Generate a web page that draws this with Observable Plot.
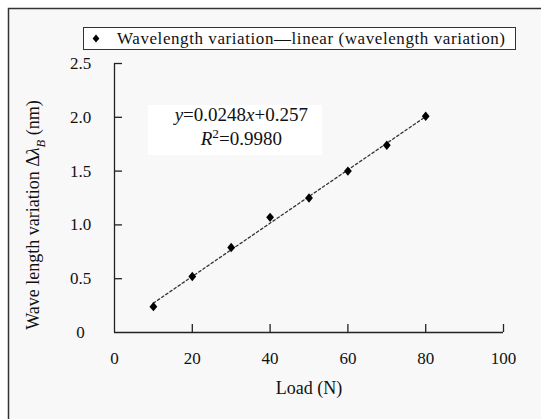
<!DOCTYPE html>
<html><head><meta charset="utf-8">
<script src="https://cdn.jsdelivr.net/npm/d3@7"></script>
<script src="https://cdn.jsdelivr.net/npm/@observablehq/plot@0.6"></script>
<style>body{margin:0;background:#fff;} #chart{width:541px;height:419px;overflow:hidden;}</style>
</head><body><div id="chart"></div>
<script>
const load = [10, 20, 30, 40, 50, 60, 70, 80];
const wavelengthVariation = [0.24, 0.52, 0.79, 1.07, 1.25, 1.50, 1.74, 2.01];
const xTicks = [0, 20, 40, 60, 80, 100];
const yTicks = [0, 0.5, 1.0, 1.5, 2.0, 2.5];
const yTickLabels = ["0", "0.5", "1.0", "1.5", "2.0", "2.5"];
const legendLabel = "Wavelength variation\u2014linear (wavelength variation)";
const xLabel = "Load (N)";
const yLabelParts = [{t: "Wave length variation \u0394"}, {t: "\u03bb", i: true}, {t: "B", i: true, sub: true}, {t: " (nm)"}];
const eqLine1 = [{t: "y", i: true}, {t: "=0.0248"}, {t: "x", i: true}, {t: "+0.257"}];
const eqLine2 = [{t: "R", i: true}, {t: "2", sup: true}, {t: "=0.9980"}];
const eqPos = {x: 32.6, y1: 2.02, y2: 1.80};

const data = load.map((x, i) => ({x, y: wavelengthVariation[i]}));
const serif = "'Liberation Serif', 'Times New Roman', serif";
const diamond = {draw(ctx, size) {
  const w = Math.sqrt(size) * 0.55, h = w * 1.2;
  ctx.moveTo(0, -h); ctx.lineTo(w, 0); ctx.lineTo(0, h); ctx.lineTo(-w, 0); ctx.closePath();
}};
const plain = parts => parts.map(p => p.t).join("");

const plot = Plot.plot({
  width: 541, height: 419,
  marginLeft: 114, marginRight: 38, marginTop: 63, marginBottom: 87,
  style: {fontFamily: serif, fontSize: "17px", background: "white", color: "#111"},
  x: {domain: [0, 100]},
  y: {domain: [0, 2.5]},
  marks: [
    Plot.axisX(xTicks, {tickSize: 0, tickPadding: 19, fontSize: 17, label: null}),
    Plot.axisY(yTicks, {tickSize: 0, tickPadding: 34, textAnchor: "middle", fontSize: 17, label: null,
      tickFormat: d => yTickLabels[yTicks.indexOf(d)]}),
    Plot.ruleY([0], {x1: xTicks[0], x2: xTicks[xTicks.length - 1], stroke: "#222", strokeWidth: 1.3}),
    Plot.ruleX([0], {y1: yTicks[0], y2: yTicks[yTicks.length - 1], stroke: "#222", strokeWidth: 1.3}),
    Plot.ruleX(xTicks.slice(1), {x: d => d, y1: 0, y2: 0, insetTop: -8, stroke: "#222", strokeWidth: 1.3}),
    Plot.ruleY(yTicks.slice(1), {y: d => d, x1: 0, x2: 0, insetRight: -8, stroke: "#222", strokeWidth: 1.3}),
    Plot.linearRegressionY(data, {x: "x", y: "y", ci: 0, stroke: "#333", strokeWidth: 1.3, strokeDasharray: "2.5,2.5"}),
    Plot.dot(data, {x: "x", y: "y", symbol: diamond, r: 4, fill: "#000", stroke: "none"}),
    Plot.text([plain(eqLine1)], {x: eqPos.x, y: eqPos.y1, text: d => d, fontSize: 19, className: "eq1"}),
    Plot.text([plain(eqLine2)], {x: eqPos.x, y: eqPos.y2, text: d => d, fontSize: 19, className: "eq2"}),
    Plot.text([xLabel], {frameAnchor: "bottom", textAnchor: "middle", dy: 61, text: d => d, fontSize: 18}),
    Plot.text([plain(yLabelParts)], {frameAnchor: "left", textAnchor: "middle", dx: -81, dy: 17, rotate: -90, text: d => d, fontSize: 18, className: "ylab"})
  ]
});

const svg = d3.select(plot);
function rich(sel, parts, fs) {
  const t = svg.select(sel + " text");
  t.text(null);
  let shift = 0;
  parts.forEach(p => {
    const s = t.append("tspan").text(p.t);
    if (p.i) s.attr("font-style", "italic");
    let target = 0;
    if (p.sub) { s.attr("font-size", "0.7em"); target = 0.3 * fs; }
    if (p.sup) { s.attr("font-size", "0.7em"); target = -0.36 * fs; }
    const d = target - shift;
    if (d !== 0) s.attr("dy", d + "px");
    shift = target;
  });
}
rich(".eq1", eqLine1, 19);
rich(".eq2", eqLine2, 19);
rich(".ylab", yLabelParts, 18);

// outer frame (behind everything)
svg.insert("rect", ":first-child")
  .attr("x", 8.5).attr("y", 8.5).attr("width", 560).attr("height", 440)
  .attr("fill", "#f8f8f8").attr("stroke", "#333").attr("stroke-width", 1.5);
// white backing behind the equation
svg.insert("rect", ":nth-child(2)")
  .attr("x", 148).attr("y", 105).attr("width", 174).attr("height", 50).attr("fill", "#fff");

// legend box
const lg = svg.append("g");
lg.append("rect").attr("x", 83.5).attr("y", 27.5).attr("width", 432).attr("height", 22)
  .attr("fill", "#fff").attr("stroke", "#333").attr("stroke-width", 1);
lg.append("path").attr("d", d3.symbol(diamond, Math.PI * 12)()).attr("transform", "translate(96,38.5)").attr("fill", "#000");
lg.append("text").attr("x", 117).attr("y", 38.5).attr("dy", "0.35em").attr("text-anchor", "start")
  .attr("font-family", serif).attr("font-size", 17).attr("fill", "#111")
  .attr("textLength", 388).attr("lengthAdjust", "spacing").text(legendLabel);

document.getElementById("chart").appendChild(plot);
</script>
</body></html>
